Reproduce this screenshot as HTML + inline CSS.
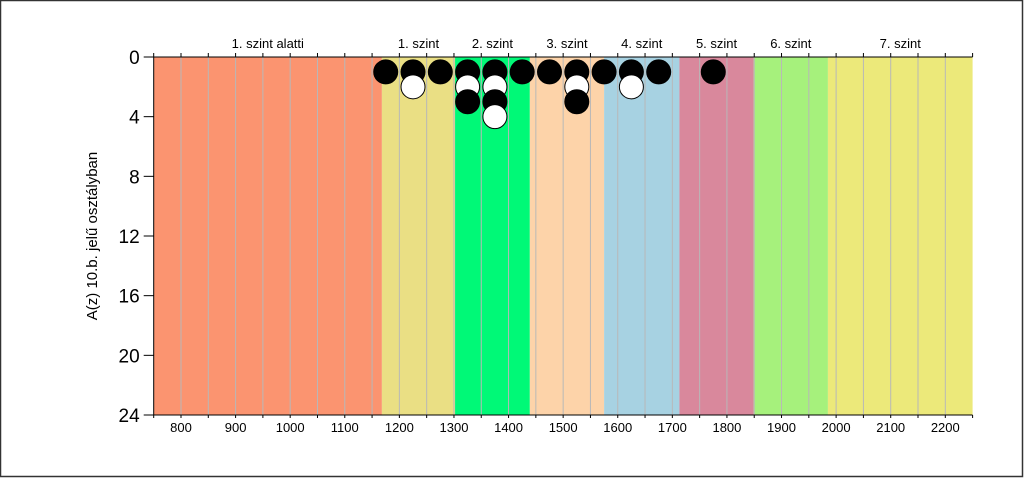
<!DOCTYPE html>
<html><head><meta charset="utf-8"><style>
body{margin:0;background:#fff}
svg{display:block;font-family:"Liberation Sans",sans-serif}
</style></head><body>
<svg id="chart" width="1024" height="478">
<rect x="0.5" y="0.5" width="1022" height="476" fill="#fff" stroke="#333" stroke-width="1.5"/>
<g id="g"></g>
</svg>
<script>
const bandStarts=[750,1168,1302,1439,1575,1713,1849,1985];
const bandEnds=[1168,1302,1439,1575,1713,1849,1985,2250];
const bandLabels=["1. szint alatti","1. szint","2. szint","3. szint","4. szint","5. szint","6. szint","7. szint"];
const bandColors=["#fb9470","#eadf84","#00f977","#fdd3a9","#a7d2e2","#d9889c","#a6f17c","#ece97a"];
const xTicks=[800,900,1000,1100,1200,1300,1400,1500,1600,1700,1800,1900,2000,2100,2200];
const yTicks=[0,4,8,12,16,20,24];
const pointX=[1175,1225,1225,1275,1325,1325,1325,1375,1375,1375,1375,1425,1475,1525,1525,1525,1575,1625,1625,1675,1775];
const pointY=[1,1,2,1,1,2,3,1,2,3,4,1,1,1,2,3,1,1,2,1,1];
const pointFill=["k","k","w","k","k","w","k","k","w","k","w","k","k","k","w","k","k","k","w","k","k"];
const X0=153.7,X1=972.6,Y0=57,Y1=415;
const sx=v=>X0+(v-750)/(2250-750)*(X1-X0);
const sy=v=>Y0+v/24*(Y1-Y0);
const g=document.getElementById('g');
const NS='http://www.w3.org/2000/svg';
function mk(t,a,txt){const e=document.createElementNS(NS,t);for(const k in a)e.setAttribute(k,a[k]);if(txt!==undefined)e.textContent=txt;g.appendChild(e);return e;}
bandStarts.forEach((s,i)=>{
 const r=mk('rect',{x:sx(s),y:Y0,width:sx(bandEnds[i])-sx(s),height:Y1-Y0,fill:bandColors[i]});
 
 
 const t=mk('text',{x:(sx(s)+sx(bandEnds[i]))/2,y:48,'text-anchor':'middle','font-size':13},bandLabels[i]);
 
 
});
for(let v=800;v<2250;v+=50){
 const l=mk('line',{x1:sx(v),x2:sx(v),y1:Y0,y2:Y1,stroke:'#b8b8b8','stroke-width':1});
 
 
}
for(let v=750;v<=2250;v+=50){
 mk('line',{x1:sx(v),x2:sx(v),y1:Y0,y2:Y0-4,stroke:'#000'});
 mk('line',{x1:sx(v),x2:sx(v),y1:Y1,y2:Y1+3,stroke:'#000'});
}
mk('line',{x1:X0,x2:X1,y1:Y0,y2:Y0,stroke:'#000'});
mk('line',{x1:X0,x2:X0,y1:Y0,y2:Y1,stroke:'#000'});
mk('line',{x1:X0,x2:X1,y1:Y1,y2:Y1,stroke:'#000'});
xTicks.forEach(v=>{
 const t=mk('text',{x:sx(v),y:432,'text-anchor':'middle','font-size':13},v);
 
 
});
yTicks.forEach(v=>{
 mk('line',{x1:X0-10,x2:X0,y1:sy(v),y2:sy(v),stroke:'#000'});
 const t=mk('text',{x:X0-14,y:sy(v)+7,'text-anchor':'end','font-size':19},v);
 
 
});
const yt=mk('text',{x:0,y:0,transform:'translate(97,236) rotate(-90)','text-anchor':'middle','font-size':15},'A(z) 10.b. jelű osztályban');


pointX.forEach((v,i)=>{
 const c=mk('circle',{cx:sx(v),cy:sy(pointY[i]),r:12,fill:pointFill[i]==='k'?'#000':'#fff',stroke:'#000','stroke-width':1});
 
 
});
</script>
</body></html>
